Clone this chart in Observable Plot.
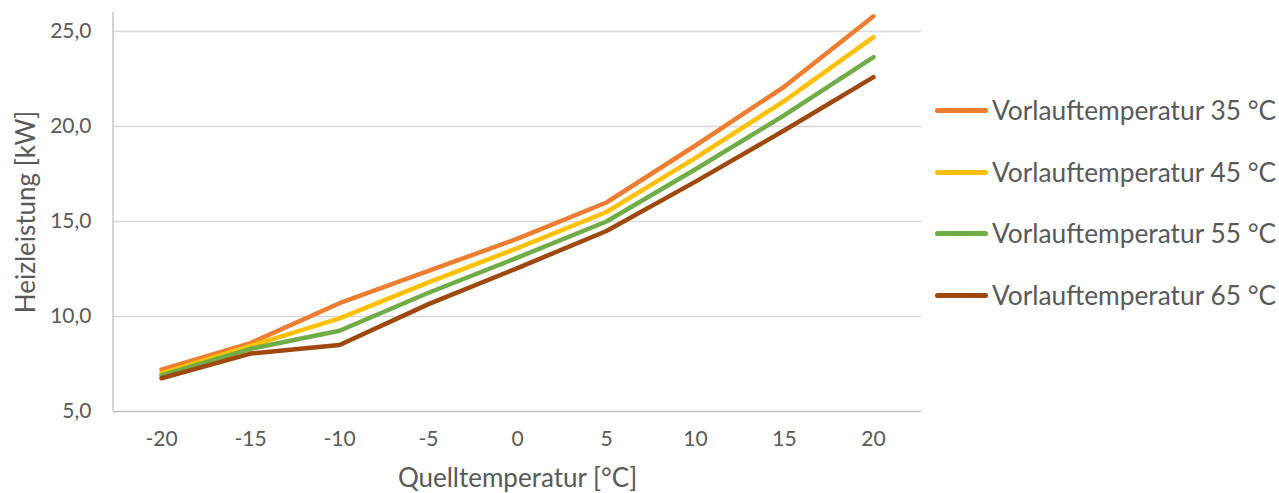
<!DOCTYPE html>
<html>
<head>
<meta charset="utf-8">
<script src="https://cdn.jsdelivr.net/npm/d3@7"></script>
<script src="https://cdn.jsdelivr.net/npm/@observablehq/plot@0.6"></script>
<style>
  html, body { margin: 0; padding: 0; background: #fff; }
  #wrap { position: relative; width: 1279px; height: 493px; font-family: Lato, "Open Sans", sans-serif; color: #595959; }
  #legend { position: absolute; left: 935px; top: 0; }
  .item { position: absolute; left: 0; display: flex; align-items: center; white-space: nowrap; transform: translateY(-50%); }
  .sw { width: 53px; height: 5px; border-radius: 3px; margin-right: 4px; }
  .lbl { font-size: 26.3px; }
</style>
</head>
<body>
<div id="wrap"><div id="legend"></div></div>
<script>
const categories = [-20, -15, -10, -5, 0, 5, 10, 15, 20];
const seriesNames = ["Vorlauftemperatur 35 °C", "Vorlauftemperatur 45 °C", "Vorlauftemperatur 55 °C", "Vorlauftemperatur 65 °C"];
const vorlauf35 = [7.2, 8.6, 10.7, 12.4, 14.1, 16.0, 19.0, 22.1, 25.8];
const vorlauf45 = [7.0, 8.45, 9.9, 11.8, 13.6, 15.5, 18.35, 21.35, 24.7];
const vorlauf55 = [6.9, 8.3, 9.25, 11.25, 13.1, 15.0, 17.75, 20.6, 23.65];
const vorlauf65 = [6.75, 8.05, 8.5, 10.65, 12.55, 14.5, 17.1, 19.8, 22.6];
const colors = ["#ED7D31", "#FFC000", "#70AD47", "#9E480E"];
const yTicks = [5, 10, 15, 20, 25];
const xTitle = "Quelltemperatur [°C]";
const yTitle = "Heizleistung [kW]";

const allSeries = [vorlauf35, vorlauf45, vorlauf55, vorlauf65];
const rows = seriesNames.flatMap((s, i) => categories.map((c, j) => ({x: c, y: allSeries[i][j], s})));

const fmt = d => d.toFixed(1).replace(".", ",");

const leftLine = (index, scales, values, dims) => {
  const ns = "http://www.w3.org/2000/svg";
  const l = document.createElementNS(ns, "line");
  l.setAttribute("x1", dims.marginLeft);
  l.setAttribute("x2", dims.marginLeft);
  l.setAttribute("y1", dims.marginTop);
  l.setAttribute("y2", dims.height - dims.marginBottom);
  l.setAttribute("stroke", "#bfbfbf");
  l.setAttribute("stroke-width", "1.3");
  return l;
};

const chart = Plot.plot({
  width: 1279,
  height: 493,
  marginLeft: 113,
  marginRight: 358,
  marginTop: 12,
  marginBottom: 82,
  style: {fontFamily: "Lato, 'Open Sans', sans-serif", color: "#595959", background: "white", overflow: "visible"},
  x: {type: "point", domain: categories, padding: 0.5},
  y: {domain: [5, 26]},
  color: {domain: seriesNames, range: colors},
  marks: [
    Plot.gridY(yTicks.filter(d => d > 5), {stroke: "#d9d9d9", strokeOpacity: 1, strokeWidth: 1.3}),
    Plot.ruleY([5], {stroke: "#bfbfbf", strokeWidth: 1.3}),
    leftLine,
    Plot.axisY(yTicks, {tickSize: 0, tickPadding: 22, tickFormat: fmt, fontSize: 21, label: null, fill: "#595959"}),
    Plot.axisX(categories, {tickSize: 0, tickPadding: 20, tickFormat: d => String(d), fontSize: 21, label: null, fill: "#595959"}),
    Plot.line(rows, {x: "x", y: "y", z: "s", stroke: "s", strokeWidth: 4.5, strokeLinecap: "round", strokeLinejoin: "round"}),
    Plot.text([yTitle], {frameAnchor: "left", dx: -87, rotate: -90, textAnchor: "middle", lineAnchor: "middle", fontSize: 26, fill: "#595959"}),
    Plot.text([xTitle], {frameAnchor: "bottom", dy: 67, textAnchor: "middle", lineAnchor: "middle", fontSize: 26, fill: "#595959"})
  ]
});

const wrap = document.getElementById("wrap");
wrap.insertBefore(chart, wrap.firstChild);

const legend = document.getElementById("legend");
const legendY = [110, 172, 233, 295];
seriesNames.forEach((name, i) => {
  const it = document.createElement("div");
  it.className = "item";
  it.style.top = legendY[i] + "px";
  const sw = document.createElement("div");
  sw.className = "sw";
  sw.style.background = colors[i];
  const t = document.createElement("span");
  t.className = "lbl";
  t.textContent = name;
  it.appendChild(sw);
  it.appendChild(t);
  legend.appendChild(it);
});
</script>
</body>
</html>
